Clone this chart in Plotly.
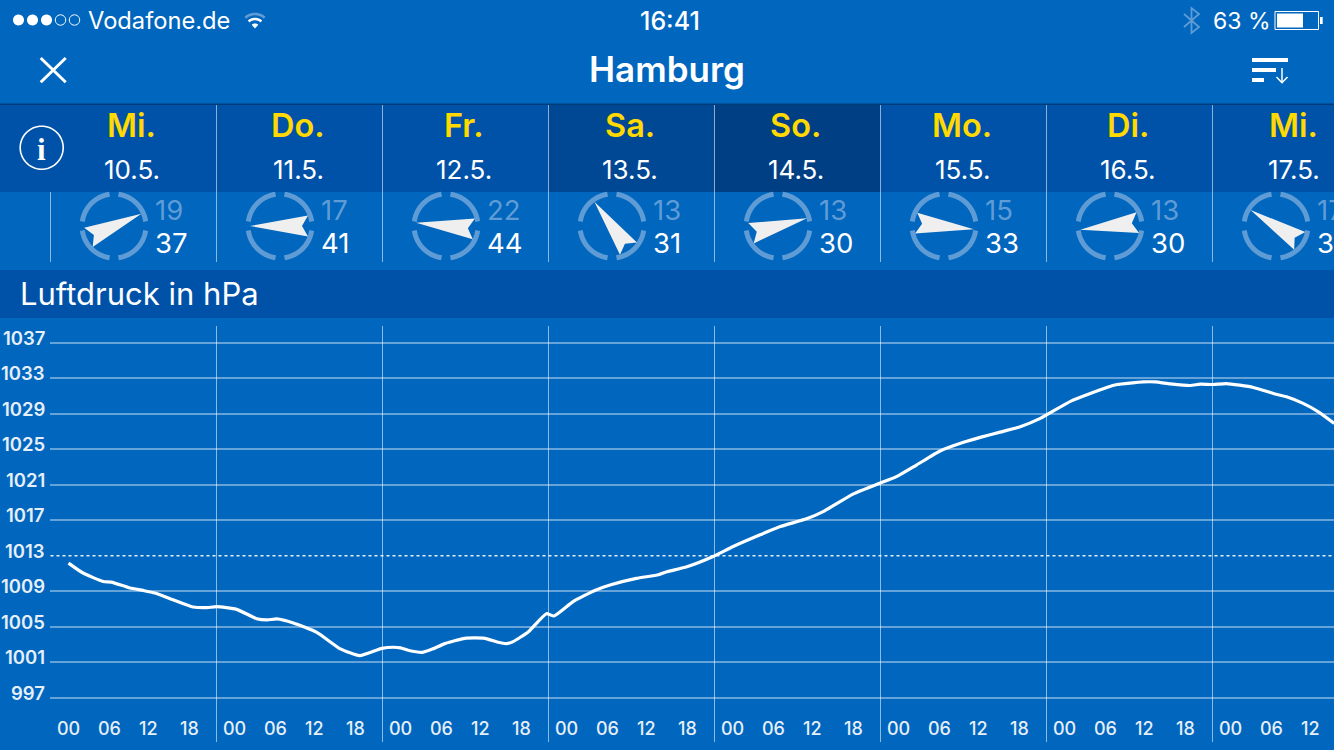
import math

import plotly.graph_objects as go

# ── Data ──────────────────────────────────────────────────────────────────────
HOURS = [0.0, 2.1, 5.0, 6.2, 8.9, 10.8, 12.5, 15.1, 18.0, 20.0, 21.4, 24.3, 27.2, 28.7,
         30.1, 32.5, 35.9, 39.3, 42.1, 45.3, 47.0, 48.0, 49.1, 51.2, 52.7, 54.4, 57.3,
         60.2, 62.1, 63.3, 64.3, 66.5, 69.1, 70.2, 73.0, 76.1, 78.3, 82.1, 85.3, 86.5,
         89.4, 93.2, 96.1, 100.0, 102.9, 106.7, 109.1, 113.5, 117.3, 119.7, 122.6,
         126.0, 129.4, 131.8, 134.7, 137.6, 140.5, 145.0, 150.1, 151.6, 155.4, 157.1,
         159.3, 162.2, 163.6, 165.5, 167.4, 171.3, 174.2, 176.1, 178.5, 180.7, 183.0]
PRESSURE = [1012.18, 1011.06, 1010.11, 1010.04, 1009.37, 1009.10, 1008.81, 1008.06,
            1007.24, 1007.16, 1007.27, 1006.97, 1005.92, 1005.78, 1005.89, 1005.44,
            1004.38, 1002.52, 1001.76, 1002.58, 1002.70, 1002.63, 1002.36, 1002.13,
            1002.52, 1003.11, 1003.71, 1003.71, 1003.26, 1003.11, 1003.34, 1004.46,
            1006.48, 1006.22, 1007.87, 1009.10, 1009.71, 1010.45, 1010.87, 1011.20,
            1011.76, 1012.92, 1014.04, 1015.36, 1016.29, 1017.16, 1017.98, 1019.97,
            1021.17, 1021.91, 1023.22, 1024.80, 1025.78, 1026.34, 1026.93, 1027.53,
            1028.47, 1030.45, 1031.96, 1032.29, 1032.58, 1032.58, 1032.36, 1032.18,
            1032.33, 1032.29, 1032.40, 1031.96, 1031.28, 1030.90, 1030.16, 1029.21,
            1027.91]

Y_TICKS = [997, 1001, 1005, 1009, 1013, 1017, 1021, 1025, 1029, 1033, 1037]
X_LABELS = ["00", "06", "12", "18"]
X_LABEL_HOURS = [0, 5.93, 11.86, 17.8]

DAYS = ["Mi.", "Do.", "Fr.", "Sa.", "So.", "Mo.", "Di.", "Mi."]
DATES = ["10.5.", "11.5.", "12.5.", "13.5.", "14.5.", "15.5.", "16.5.", "17.5."]
WIND = [19, 17, 22, 13, 13, 15, 13, 17]
GUST = [37, 41, 44, 31, 30, 33, 30, 33]
WIND_DIR = [66, 270, 276, 324, 75, 96, 263, 302]

# ── Page geometry (pixels) ────────────────────────────────────────────────────
W, H = 1334, 750
LEFT, TOP, BOTTOM = 50, 326, 742
DAY_LINE_PX = 50.5
PX_PER_HOUR = 166 / 24
HOUR0_PX = 68.5
PX_PER_HPA = 8.88
Y1013_PX = 555.8

BG = "#0066BE"
HEAD = "#0052A8"
DIM = "#5F9CD6"
YELLOW = "#FFD900"
FONT = "Inter"


def px(x):
    return (x - LEFT) / (W - LEFT)


def py(y):
    return (BOTTOM - y) / (BOTTOM - TOP)


def path_of(points, close=False):
    d = "M " + " L ".join(f"{px(x):.5f},{py(y):.5f}" for x, y in points)
    return d + (" Z" if close else "")


def arc(cx, cy, r, a0, a1, n=24):
    """Polyline along a circle, angles are compass bearings in degrees."""
    pts = []
    for i in range(n + 1):
        a = math.radians(a0 + (a1 - a0) * i / n)
        pts.append((cx + r * math.sin(a), cy - r * math.cos(a)))
    return pts


fig = go.Figure()

fig.add_trace(go.Scatter(
    x=HOURS, y=PRESSURE, mode="lines",
    line=dict(color="white", width=3.2, shape="spline", smoothing=0.5),
    showlegend=False, hoverinfo="skip",
))


def rect(x0, y0, x1, y1, fill, layer="below"):
    fig.add_shape(type="rect", xref="paper", yref="paper", layer=layer,
                  x0=px(x0), x1=px(x1), y0=py(y0), y1=py(y1),
                  fillcolor=fill, line_width=0)


def stroke(points, color="white", width=2.0, close=False, fill=None, layer="above"):
    fig.add_shape(type="path", xref="paper", yref="paper", layer=layer,
                  path=path_of(points, close),
                  line=dict(color=color, width=width),
                  fillcolor=fill if fill else "rgba(0,0,0,0)")


def solid(points, fill):
    fig.add_shape(type="path", xref="paper", yref="paper", layer="above",
                  path=path_of(points, True), line_width=0, fillcolor=fill)


def text(x, y, s, size, color="white", anchor="center", weight=400, family=FONT):
    fig.add_annotation(xref="paper", yref="paper", x=px(x), y=py(y), text=s,
                       showarrow=False, xanchor=anchor, yanchor="middle",
                       font=dict(size=size, color=color, family=family, weight=weight),
                       borderpad=0)


# ── Panels ────────────────────────────────────────────────────────────────────
rect(0, 105, W, 192, HEAD)
rect(548.5, 105, 714.5, 192, "#014894")
rect(714.5, 105, 880.5, 192, "#013F85")
rect(0, 103.5, W, 105, "#003C78")
rect(0, 270, W, 318, HEAD)

# ── Status bar ────────────────────────────────────────────────────────────────
for i, cx in enumerate([18.5, 32.5, 46.5, 60.5, 74.5]):
    stroke(arc(cx, 20, 5.2 if i > 2 else 3, 0, 360), width=1 if i > 2 else 5,
           close=True, fill="white" if i < 3 else None)
text(87, 20.5, "Vodafone.de", 23.7, anchor="left")
stroke(arc(255, 28.5, 14.5, -42, 42), color=DIM, width=2.6)
stroke(arc(255, 28.5, 9.5, -42, 42), width=2.6)
solid([(255, 28.5)] + arc(255, 28.5, 5, -42, 42, 8), "white")
text(670, 20.5, "16:41", 25, weight=500)
stroke([(1184, 14), (1199, 27), (1191.5, 33), (1191.5, 8), (1199, 14), (1184, 27)],
       color=DIM, width=1.8)
text(1212, 20.5, "63 %", 23, anchor="left")
stroke([(1275, 11.5), (1318.5, 11.5), (1318.5, 29.5), (1275, 29.5)], width=1, close=True)
solid([(1277, 13.5), (1303, 13.5), (1303, 27.5), (1277, 27.5)], "white")
solid([(1320, 17), (1322.7, 17), (1322.7, 24), (1320, 24)], "white")

# ── Navigation bar ────────────────────────────────────────────────────────────
stroke([(40.7, 58), (65.7, 82.3)], width=3)
stroke([(65.7, 58), (40.7, 82.3)], width=3)
text(667, 69.5, "Hamburg", 35, weight=600)
for y0, x1 in [(58, 1288), (68, 1276), (78, 1264)]:
    solid([(1252, y0), (x1, y0), (x1, y0 + 4), (1252, y0 + 4)], "white")
stroke([(1282, 68), (1282, 82.5)], width=1.5)
stroke([(1276.5, 77), (1282, 82.7), (1287.5, 77)], width=1.5)

# ── Day header and wind row ───────────────────────────────────────────────────
stroke(arc(41.7, 147.7, 21.5, 0, 360, 60), width=1.6, close=True)
text(41.7, 149, "i", 31, weight=700, family="Liberation Serif")

for i, day in enumerate(DAYS):
    edge = 216.5 + 166 * i
    cx = 114 + 166 * i
    if i < 7:
        stroke([(edge, 105), (edge, 262)], color="rgba(255,255,255,0.55)", width=1,
               layer="below")
    text(131.5 + 166 * i, 126, day, 32.5, color=YELLOW, weight=600)
    text(132 + 166 * i, 169.5, DATES[i], 26)
    text(154 + 166 * i, 209.5, str(WIND[i]), 27.5, color=DIM, anchor="left")
    text(154 + 166 * i, 243, str(GUST[i]), 27.5, anchor="left")

    # compass ring, four quarter segments
    for q in range(4):
        stroke(arc(cx, 226, 32, q * 90 + 8, q * 90 + 82, 16), color=DIM, width=5)

    # wind arrow, rotated to the bearing it points at
    b = math.radians(WIND_DIR[i])
    arrow = []
    for ax, ay in [(0, 30), (10.5, -28), (0, -22), (-10.5, -28)]:
        arrow.append((cx + ax * math.cos(b) + ay * math.sin(b),
                      226 + ax * math.sin(b) - ay * math.cos(b)))
    solid(arrow, "#EFEFEF")

stroke([(50.5, 192), (50.5, 262)], color="rgba(255,255,255,0.55)", width=1, layer="below")
text(19, 293.5, "Luftdruck in hPa", 31, anchor="left")

# ── Chart labels ──────────────────────────────────────────────────────────────
for v in Y_TICKS:
    fig.add_annotation(xref="paper", yref="y", x=px(47), y=v, text=str(v), showarrow=False,
                       xanchor="right", yanchor="middle", yshift=5,
                       font=dict(size=18.5, color="#E6EFF8", family=FONT, weight=600))

for d in range(8):
    for lab, h in zip(X_LABELS, X_LABEL_HOURS):
        fig.add_annotation(xref="x", yref="paper", x=24 * d + h, y=py(728), text=lab,
                           showarrow=False, xanchor="left", yanchor="middle", xshift=-14,
                           font=dict(size=18, color="#E6EFF8", family=FONT, weight=500))

# dotted reference line for standard pressure
x_min = (LEFT - HOUR0_PX) / PX_PER_HOUR
x_max = (W - HOUR0_PX) / PX_PER_HOUR
day_line = (DAY_LINE_PX - HOUR0_PX) / PX_PER_HOUR
fig.add_shape(type="line", xref="x", yref="y", x0=day_line, x1=x_max, y0=1013, y1=1013,
              layer="below", line=dict(color="rgba(255,255,255,0.9)", width=1.5, dash="dot"))

# ── Layout ────────────────────────────────────────────────────────────────────
fig.update_layout(
    width=W, height=H,
    margin=dict(l=LEFT, r=0, t=TOP, b=H - BOTTOM, pad=0),
    paper_bgcolor=BG, plot_bgcolor=BG,
    showlegend=False, hovermode=False,
)
fig.update_xaxes(
    range=[x_min, x_max],
    tickmode="array", tickvals=[day_line + 24 * d for d in range(8)],
    showticklabels=False, ticks="",
    showgrid=True, gridcolor="rgba(255,255,255,0.55)", gridwidth=1,
    zeroline=False, showline=False,
)
fig.update_yaxes(
    range=[1013 - (BOTTOM - Y1013_PX) / PX_PER_HPA, 1013 + (Y1013_PX - TOP) / PX_PER_HPA],
    tickmode="array", tickvals=[v for v in Y_TICKS if v != 1013],
    showticklabels=False, ticks="",
    showgrid=True, gridcolor="rgba(255,255,255,0.4)", gridwidth=2,
    zeroline=False, showline=False,
)

fig.write_html(
    "out.html",
    config=dict(displayModeBar=False),
    post_script="document.body.style.margin='0';document.body.style.overflow='hidden';",
)
